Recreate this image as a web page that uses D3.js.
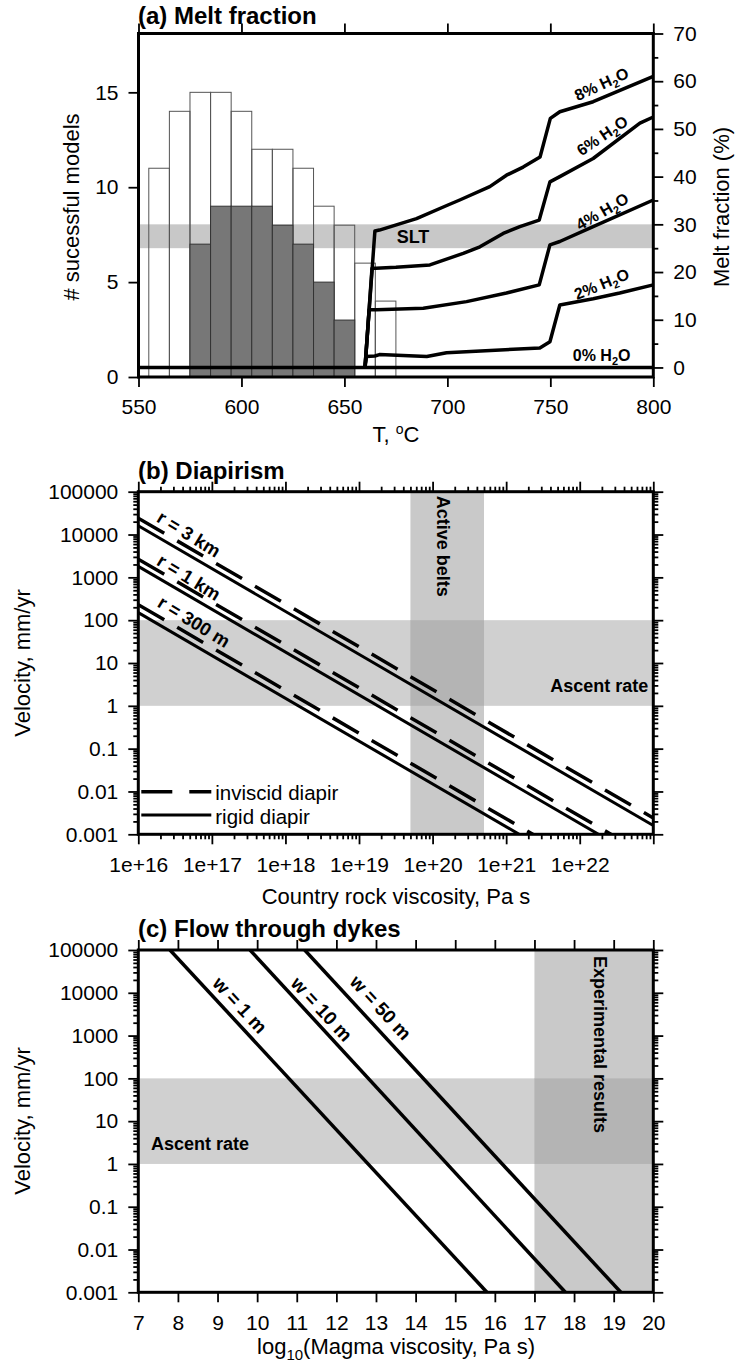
<!DOCTYPE html>
<html>
<head>
<meta charset="utf-8">
<script src="https://cdn.jsdelivr.net/npm/d3@7"></script>
<style>
body{margin:0;background:#fff;}
</style>
</head>
<body>
<script>
// ---- (a) melt fraction: histogram of successful models
var binStart=[555,565,575,585,595,605,615,625,635,645,655,665]
var binWidth=10
var allCounts=[11,14,15,15,14,12,12,11,9,8,6,4]
var goodCounts=[0,0,7,9,9,9,8,7,5,3,0,0]

// melt fraction curves, T (C) and melt %
var melt0T=[550,800]
var melt0=[0,0]
var melt2T=[660,660.7,664.8,667,690,699.6,744.9,749.8,754.6,770.8,783.7,800]
var melt2=[0,2.3,2.4,2.7,2.3,3.1,4.1,5.4,13.1,14.4,15.6,17.3]
var melt4T=[660,662,665.6,688.3,709.3,728.7,744.6,749.8,754.6,770.8,800]
var melt4=[0,12.1,12.1,12.4,13.8,15.6,17.3,25.7,26.4,29.5,35.1]
var melt6T=[660,663.4,665.3,675,691.5,707.7,715.8,727.1,735.2,744.6,749.8,754.6,770.8,793.5,800]
var melt6=[0,20.8,20.8,21,21.5,23.9,25.3,28.1,29.5,30.9,38.9,40,43.8,51.2,52.5]
var melt8T=[660,664.8,667,685,700,706,720.6,728.7,736.8,745,750,754.6,770.8,800]
var melt8=[0,28.6,28.8,31.2,34,35.1,37.9,40.3,42,44.1,52.2,53.6,55.7,61]
var meltNames=["0","2","4","6","8"]
var meltLabelT=[774.9,774.9,775.2,775.2,774.9]
var meltLabelV=[2.6,17.5,32.7,48.6,59.4]
var meltLabelAngle=[0,-22,-30,-34,-25]
var sltBand=[25,30]

var tempTicks=[550,600,650,700,750,800]
var countTicks=[0,5,10,15]
var meltTicks=[0,10,20,30,40,50,60,70]

// ---- (b) diapirism
var etaEnds=[1e16,1e23]
var rigid3km=[16000,0.0016]
var rigid1km=[1800,0.00018]
var rigid300m=[150,0.000015]
var inviscid3km=[24000,0.0024]
var inviscid1km=[2650,0.000265]
var inviscid300m=[230,0.000023]
var radiusNames=["r = 3 km","r = 1 km","r = 300 m"]
var radiusLabelEta=[Math.pow(10,16.689),Math.pow(10,16.689),Math.pow(10,16.757)]
var radiusLabelV=[Math.pow(10,4.012),Math.pow(10,3.001),Math.pow(10,1.964)]
var ascentBand=[1,100]
var activeBelts=[5e19,5e20]

var velTicks=[0.001,0.01,0.1,1,10,100,1000,10000,100000]
var velLabels=["0.001","0.01","0.1","1","10","100","1000","10000","100000"]
var viscTicks=[1e16,1e17,1e18,1e19,1e20,1e21,1e22,1e23]
var viscLabels=["1e+16","1e+17","1e+18","1e+19","1e+20","1e+21","1e+22",""]

// ---- (c) flow through dykes, log10 magma viscosity vs velocity
var dyke1mX=[7.8,15.8]
var dyke10mX=[9.82,17.78]
var dyke50mX=[11.2,19.18]
var dykeV=[100000,0.001]
var widthNames=["w = 1 m","w = 10 m","w = 50 m"]
var widthLabelX=[9.567,11.63,13.12]
var widthLabelV=[Math.pow(10,3.715),Math.pow(10,3.621),Math.pow(10,3.656)]
var experimental=[17,20]
var magmaTicks=[7,8,9,10,11,12,13,14,15,16,17,18,19,20]

var font='"Liberation Sans", Arial, Helvetica, sans-serif'
var svg=d3.select("body").append("svg").attr("width",736).attr("height",1369)
  .attr("font-family",font)

var axisStyle=function(g){
  g.select(".domain").remove()
  g.selectAll("line").attr("stroke","#000").attr("stroke-width",1.8)
  g.selectAll("text").attr("font-size",21).attr("font-family",font).attr("fill","#000")
}
var drawAxis=function(axis,tx,ty){
  return svg.append("g").attr("transform","translate("+tx+","+ty+")").call(axis).call(axisStyle)
}
var minorTicks=function(lo,hi){
  var out=[]
  for(var k=lo;k<hi;k++){
    for(var m=2;m<10;m++){out.push(m*Math.pow(10,k))}
  }
  return out
}
var frame=function(x,y){
  svg.append("rect").attr("x",x.range()[0]).attr("y",y.range()[1])
    .attr("width",x.range()[1]-x.range()[0]).attr("height",y.range()[0]-y.range()[1])
    .attr("fill","none").attr("stroke","#000").attr("stroke-width",3)
}
var clipFor=function(id,x,y){
  svg.append("clipPath").attr("id",id).append("rect")
    .attr("x",x.range()[0]).attr("y",y.range()[1])
    .attr("width",x.range()[1]-x.range()[0]).attr("height",y.range()[0]-y.range()[1])
}
var title=function(txt,x,y){
  svg.append("text").attr("x",x).attr("y",y).attr("font-size",24).attr("font-weight","bold").text(txt)
}
var vlabel=function(txt,x,y,rot){
  svg.append("text").attr("transform","translate("+x+","+y+") rotate("+rot+")")
    .attr("text-anchor","middle").attr("font-size",22).text(txt)
}

// ================= (a)
var xA=d3.scaleLinear().domain([550,800]).range([138.5,653.3])
var yA=d3.scaleLinear().domain([0,18.1]).range([377,33.5])
var yA2=d3.scaleLinear().domain([-2,70]).range([377,33.5])

svg.append("rect").attr("x",xA(550)).attr("width",xA(800)-xA(550))
  .attr("y",yA2(sltBand[1])).attr("height",yA2(sltBand[0])-yA2(sltBand[1]))
  .attr("fill","#c8c8c8")

svg.append("g").selectAll("rect").data(binStart).enter().append("rect")
  .attr("x",function(d){return xA(d)})
  .attr("width",function(d){return xA(d+binWidth)-xA(d)})
  .attr("y",function(d,i){return yA(allCounts[i])})
  .attr("height",function(d,i){return yA(0)-yA(allCounts[i])})
  .attr("fill","none").attr("stroke","#555").attr("stroke-width",1)

svg.append("g").selectAll("rect").data(binStart.filter(function(d,i){return goodCounts[i]>0})).enter().append("rect")
  .attr("x",function(d){return xA(d)})
  .attr("width",function(d){return xA(d+binWidth)-xA(d)})
  .attr("y",function(d){return yA(goodCounts[binStart.indexOf(d)])})
  .attr("height",function(d){return yA(0)-yA(goodCounts[binStart.indexOf(d)])})
  .attr("fill","#777").attr("stroke","#333").attr("stroke-width",1)

var meltLine=d3.line().x(function(d){return xA(d[0])}).y(function(d){return yA2(d[1])})
var meltSeries=[[melt0T,melt0],[melt2T,melt2],[melt4T,melt4],[melt6T,melt6],[melt8T,melt8]]
meltSeries.forEach(function(s){
  svg.append("path").attr("d",meltLine(d3.zip(s[0],s[1])))
    .attr("fill","none").attr("stroke","#000").attr("stroke-width",3.5)
    .attr("stroke-linejoin","round")
})

meltNames.forEach(function(n,i){
  var t=svg.append("text")
    .attr("transform","translate("+xA(meltLabelT[i])+","+yA2(meltLabelV[i])+") rotate("+meltLabelAngle[i]+")")
    .attr("text-anchor","middle").attr("dy","0.35em").attr("font-size",16).attr("font-weight","bold")
  t.append("tspan").text(n+"% H")
  t.append("tspan").text("2").attr("font-size",11).attr("dy",4)
  t.append("tspan").text("O").attr("dy",-4)
})
svg.append("text").attr("x",xA(683.3)).attr("y",yA2(27.4)).attr("dy","0.35em")
  .attr("text-anchor","middle").attr("font-size",18).attr("font-weight","bold").text("SLT")

frame(xA,yA)
drawAxis(d3.axisBottom(xA).tickValues(tempTicks).tickSize(10).tickPadding(12.5),0,377)
drawAxis(d3.axisTop(xA).tickValues(tempTicks).tickSize(10).tickFormat(""),0,33.5)
drawAxis(d3.axisLeft(yA).tickValues(countTicks).tickSize(10).tickPadding(10),138.5,0)
drawAxis(d3.axisRight(yA2).tickValues(meltTicks).tickSize(10).tickPadding(10),653.3,0)
drawAxis(d3.axisRight(yA2).tickValues([5,15,25,35,45,55,65]).tickSize(5).tickFormat(""),653.3,0)

title("(a) Melt fraction",138,23.5)
vlabel("# sucessful models",79,207,-90)
vlabel("Melt fraction (%)",729,207,-90)
var tl=svg.append("text").attr("x",396).attr("y",442).attr("text-anchor","middle").attr("font-size",22)
tl.append("tspan").text("T, ")
tl.append("tspan").text("o").attr("font-size",14).attr("dy",-8)
tl.append("tspan").text("C").attr("dy",8)

// ================= (b)
var xB=d3.scaleLog().domain([1e16,1e23]).range([138.3,653.3])
var yB=d3.scaleLog().domain([1e-3,1e5]).range([834.3,491.7])

svg.append("rect").attr("x",xB(1e16)).attr("width",xB(1e23)-xB(1e16))
  .attr("y",yB(ascentBand[1])).attr("height",yB(ascentBand[0])-yB(ascentBand[1])).attr("fill","#d0d0d0")
svg.append("rect").attr("x",xB(activeBelts[0])).attr("width",xB(activeBelts[1])-xB(activeBelts[0]))
  .attr("y",yB(1e5)).attr("height",yB(1e-3)-yB(1e5)).attr("fill","#c9c9c9")
svg.append("rect").attr("x",xB(activeBelts[0])).attr("width",xB(activeBelts[1])-xB(activeBelts[0]))
  .attr("y",yB(ascentBand[1])).attr("height",yB(ascentBand[0])-yB(ascentBand[1])).attr("fill","#b4b4b4")

clipFor("clipB",xB,yB)
var diapirLine=d3.line().x(function(d){return xB(d[0])}).y(function(d){return yB(d[1])})
var gB=svg.append("g").attr("clip-path","url(#clipB)")
;[inviscid3km,inviscid1km,inviscid300m].forEach(function(v){
  gB.append("path").attr("d",diapirLine(d3.zip(etaEnds,v)))
    .attr("fill","none").attr("stroke","#000").attr("stroke-width",3.5).attr("stroke-dasharray","30,15")
})
;[rigid3km,rigid1km,rigid300m].forEach(function(v){
  gB.append("path").attr("d",diapirLine(d3.zip(etaEnds,v)))
    .attr("fill","none").attr("stroke","#000").attr("stroke-width",3)
})
var angB=-Math.atan((yB(1)-yB(10))/(xB(1e17)-xB(1e16)))*180/Math.PI
radiusNames.forEach(function(n,i){
  svg.append("text")
    .attr("transform","translate("+xB(radiusLabelEta[i])+","+yB(radiusLabelV[i])+") rotate("+(-angB+1.5)+")")
    .attr("text-anchor","middle").attr("dy","0.35em").attr("font-size",18.5).attr("font-weight","bold").text(n)
})
svg.append("text").attr("transform","translate("+xB(1.15e20)+","+(yB(1e5)+4)+") rotate(90)")
  .attr("font-size",18).attr("font-weight","bold").text("Active belts")
svg.append("text").attr("x",xB(1e23)-5).attr("y",yB(2.14)).attr("text-anchor","end")
  .attr("font-size",18).attr("font-weight","bold").text("Ascent rate")

// legend
var lx=xB(1e16)+3
svg.append("line").attr("x1",lx).attr("x2",lx+70).attr("y1",791.7).attr("y2",791.7)
  .attr("stroke","#000").attr("stroke-width",3.5).attr("stroke-dasharray","31,17")
svg.append("line").attr("x1",lx).attr("x2",lx+70).attr("y1",815).attr("y2",815)
  .attr("stroke","#000").attr("stroke-width",3)
svg.append("text").attr("x",lx+74).attr("y",799.5).attr("font-size",20.5).text("inviscid diapir")
svg.append("text").attr("x",lx+74).attr("y",823.5).attr("font-size",20.5).text("rigid diapir")

frame(xB,yB)
drawAxis(d3.axisBottom(xB).tickValues(viscTicks).tickSize(10).tickPadding(12.5).tickFormat(function(d,i){return viscLabels[i]}),0,834.3)
drawAxis(d3.axisBottom(xB).tickValues(minorTicks(16,23)).tickSize(5).tickFormat(""),0,834.3)
drawAxis(d3.axisTop(xB).tickValues(viscTicks).tickSize(10).tickFormat(""),0,491.7)
drawAxis(d3.axisTop(xB).tickValues(minorTicks(16,23)).tickSize(5).tickFormat(""),0,491.7)
drawAxis(d3.axisLeft(yB).tickValues(velTicks).tickSize(10).tickPadding(10).tickFormat(function(d,i){return velLabels[i]}),138.3,0)
drawAxis(d3.axisLeft(yB).tickValues(minorTicks(-3,5)).tickSize(5).tickFormat(""),138.3,0)
drawAxis(d3.axisRight(yB).tickValues(velTicks).tickSize(10).tickFormat(""),653.3,0)
drawAxis(d3.axisRight(yB).tickValues(minorTicks(-3,5)).tickSize(5).tickFormat(""),653.3,0)

title("(b) Diapirism",138,479)
vlabel("Velocity, mm/yr",29.5,663,-90)
svg.append("text").attr("x",396).attr("y",904).attr("text-anchor","middle").attr("font-size",22)
  .text("Country rock viscosity, Pa s")

// ================= (c)
var xC=d3.scaleLinear().domain([7,20]).range([138.3,653.3])
var yC=d3.scaleLog().domain([1e-3,1e5]).range([1292.3,950])

svg.append("rect").attr("x",xC(7)).attr("width",xC(20)-xC(7))
  .attr("y",yC(ascentBand[1])).attr("height",yC(ascentBand[0])-yC(ascentBand[1])).attr("fill","#d0d0d0")
svg.append("rect").attr("x",xC(experimental[0])).attr("width",xC(experimental[1])-xC(experimental[0]))
  .attr("y",yC(1e5)).attr("height",yC(1e-3)-yC(1e5)).attr("fill","#c9c9c9")
svg.append("rect").attr("x",xC(experimental[0])).attr("width",xC(experimental[1])-xC(experimental[0]))
  .attr("y",yC(ascentBand[1])).attr("height",yC(ascentBand[0])-yC(ascentBand[1])).attr("fill","#b4b4b4")

clipFor("clipC",xC,yC)
var dykeLine=d3.line().x(function(d){return xC(d[0])}).y(function(d){return yC(d[1])})
var gC=svg.append("g").attr("clip-path","url(#clipC)")
;[dyke1mX,dyke10mX,dyke50mX].forEach(function(xs){
  gC.append("path").attr("d",dykeLine(d3.zip(xs,dykeV)))
    .attr("fill","none").attr("stroke","#000").attr("stroke-width",3.5)
})
var angC=Math.atan((yC(1)-yC(10))/(xC(8)-xC(7)))*180/Math.PI
widthNames.forEach(function(n,i){
  svg.append("text")
    .attr("transform","translate("+xC(widthLabelX[i])+","+yC(widthLabelV[i])+") rotate("+angC+")")
    .attr("text-anchor","middle").attr("dy","0.35em").attr("font-size",19).attr("font-weight","bold").text(n)
})
svg.append("text").attr("x",xC(7.32)).attr("y",yC(2.1)).attr("font-size",18).attr("font-weight","bold").text("Ascent rate")
svg.append("text").attr("transform","translate("+xC(18.5)+","+(yC(1e5)+6)+") rotate(90)")
  .attr("font-size",18).attr("font-weight","bold").text("Experimental results")

frame(xC,yC)
drawAxis(d3.axisBottom(xC).tickValues(magmaTicks).tickSize(10).tickPadding(12.5).tickFormat(d3.format("d")),0,1292.3)
drawAxis(d3.axisTop(xC).tickValues(magmaTicks).tickSize(10).tickFormat(""),0,950)
drawAxis(d3.axisLeft(yC).tickValues(velTicks).tickSize(10).tickPadding(10).tickFormat(function(d,i){return velLabels[i]}),138.3,0)
drawAxis(d3.axisLeft(yC).tickValues(minorTicks(-3,5)).tickSize(5).tickFormat(""),138.3,0)
drawAxis(d3.axisRight(yC).tickValues(velTicks).tickSize(10).tickFormat(""),653.3,0)
drawAxis(d3.axisRight(yC).tickValues(minorTicks(-3,5)).tickSize(5).tickFormat(""),653.3,0)

title("(c) Flow through dykes",138,936.5)
vlabel("Velocity, mm/yr",29.5,1121,-90)
var ml=svg.append("text").attr("x",396).attr("y",1354).attr("text-anchor","middle").attr("font-size",22)
ml.append("tspan").text("log")
ml.append("tspan").text("10").attr("font-size",15).attr("dy",6)
ml.append("tspan").text("(Magma viscosity, Pa s)").attr("dy",-6)
</script>
</body>
</html>
